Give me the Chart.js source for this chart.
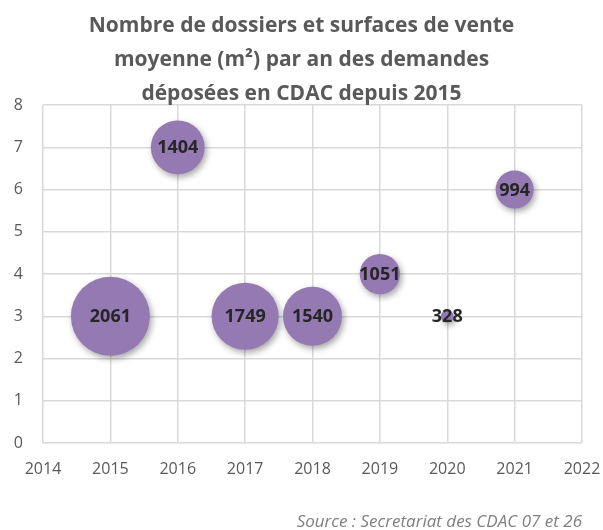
<!DOCTYPE html>
<html lang="fr">
<head>
<meta charset="utf-8">
<title>Dossiers CDAC</title>
<script src="https://cdn.jsdelivr.net/npm/chart.js@4/dist/chart.umd.min.js"></script>
<style>
  html, body { margin: 0; padding: 0; background: #ffffff; }
  #chartCdac { display: block; }
</style>
</head>
<body>
<canvas id="chartCdac" width="603" height="530"></canvas>
<script>
// Années, nombre de dossiers et surface moyenne (m²) par an
const annees = [2015, 2016, 2017, 2018, 2019, 2020, 2021];
const dossiers = [3, 7, 3, 3, 4, 3, 6];
const surfaces = [2061, 1404, 1749, 1540, 1051, 328, 994];

const titre = [
  'Nombre de dossiers et surfaces de vente',
  'moyenne (m²) par an des demandes',
  'déposées en CDAC depuis 2015'
];
const source = 'Source : Secretariat des CDAC 07 et 26';

// rayon des bulles proportionnel à la surface
const pxParM2 = 39.5 / 2061;

const points = annees.map((a, i) => ({ x: a, y: dossiers[i], r: surfaces[i] * pxParM2 }));

// ombre portée sous les bulles
const ombreBulles = {
  id: 'ombreBulles',
  beforeDatasetsDraw(chart) {
    const ctx = chart.ctx;
    ctx.save();
    ctx.shadowColor = 'rgba(0, 0, 0, 0.35)';
    ctx.shadowBlur = 6;
    ctx.shadowOffsetX = 2;
    ctx.shadowOffsetY = 3;
  },
  afterDatasetsDraw(chart) {
    chart.ctx.restore();
  }
};

// étiquettes de valeur au centre de chaque bulle
const etiquettes = {
  id: 'etiquettes',
  afterDatasetsDraw(chart) {
    const ctx = chart.ctx;
    const meta = chart.getDatasetMeta(0);
    ctx.save();
    ctx.font = 'bold 18px "Open Sans"';
    ctx.fillStyle = '#262626';
    ctx.textAlign = 'center';
    ctx.textBaseline = 'middle';
    meta.data.forEach((el, i) => {
      ctx.fillText(String(surfaces[i]), el.x, el.y + 1);
    });
    ctx.restore();
  }
};

// mention de la source en bas à droite
const mentionSource = {
  id: 'mentionSource',
  afterDraw(chart) {
    const ctx = chart.ctx;
    ctx.save();
    ctx.font = 'italic 17px "Open Sans"';
    ctx.fillStyle = '#7f7f7f';
    ctx.textAlign = 'right';
    ctx.textBaseline = 'middle';
    ctx.fillText(source, chart.width - 21, chart.height - 8);
    ctx.restore();
  }
};

const ctx = document.getElementById('chartCdac').getContext('2d');
new Chart(ctx, {
  type: 'bubble',
  data: {
    datasets: [
      {
        label: 'Surface moyenne',
        data: points,
        backgroundColor: '#9579b3',
        borderWidth: 0,
        hoverBorderWidth: 0
      }
    ]
  },
  options: {
    responsive: false,
    animation: false,
    layout: { autoPadding: false, padding: 0 },
    plugins: {
      legend: { display: false },
      tooltip: { enabled: false },
      title: {
        display: true,
        text: titre,
        color: '#595959',
        font: { family: 'Open Sans', size: 21, weight: 'bold', lineHeight: 1.62 },
        padding: { top: 9, bottom: -6 }
      }
    },
    scales: {
      x: {
        type: 'linear',
        min: 2014,
        max: 2022,
        ticks: {
          stepSize: 1,
          color: '#595959',
          font: { family: 'Open Sans', size: 16 },
          padding: 17,
          callback: (v) => String(v)
        },
        grid: { color: '#d9d9d9', lineWidth: 1.5, drawTicks: false },
        border: { display: false },
        afterFit: (scale) => {
          scale.height = 87;
          scale.paddingLeft = 0;
          scale.paddingRight = 21;
        }
      },
      y: {
        min: 0,
        max: 8,
        ticks: {
          stepSize: 1,
          color: '#595959',
          font: { family: 'Open Sans', size: 16 },
          padding: 20
        },
        grid: { color: '#d9d9d9', lineWidth: 1.5, drawTicks: false },
        border: { display: false },
        afterFit: (scale) => { scale.width = 43; }
      }
    }
  },
  plugins: [ombreBulles, etiquettes, mentionSource]
});
</script>
</body>
</html>
